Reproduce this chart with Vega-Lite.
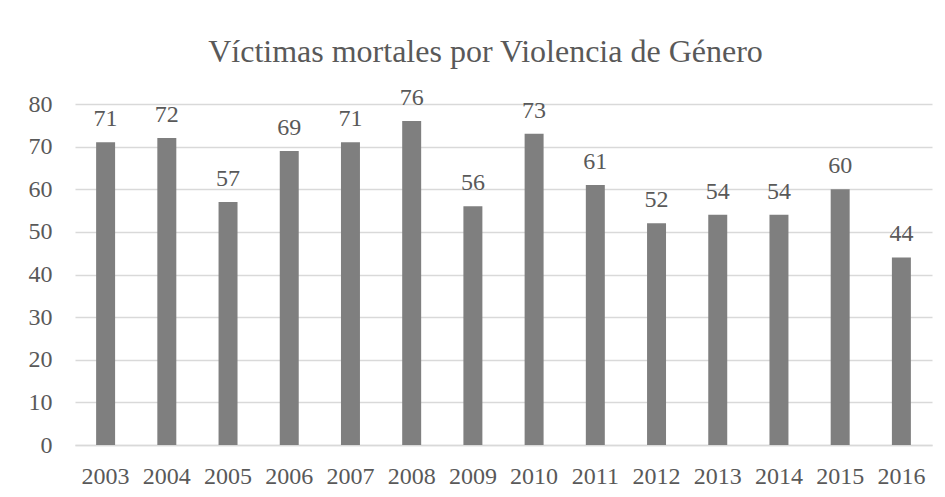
{
  "$schema": "https://vega.github.io/schema/vega-lite/v6.json",
  "autosize": "none",
  "width": 857,
  "height": 341,
  "padding": {"left": 75, "top": 104, "right": 13, "bottom": 52},
  "background": "white",
  "title": {
    "text": "Víctimas mortales por Violencia de Género",
    "font": "Liberation Serif",
    "fontSize": 32,
    "fontWeight": "normal",
    "color": "#595959",
    "anchor": "middle",
    "frame": "group",
    "dx": -18,
    "offset": 17
  },
  "config": {
    "view": {"stroke": null},
    "axis": {
      "labelFont": "Liberation Serif",
      "labelFontSize": 24,
      "labelColor": "#595959",
      "ticks": false,
      "title": null,
      "gridColor": "#d9d9d9",
      "gridWidth": 1.3
    }
  },
  "data": {
    "values": [
      {"year": "2003", "victims": 71},
      {"year": "2004", "victims": 72},
      {"year": "2005", "victims": 57},
      {"year": "2006", "victims": 69},
      {"year": "2007", "victims": 71},
      {"year": "2008", "victims": 76},
      {"year": "2009", "victims": 56},
      {"year": "2010", "victims": 73},
      {"year": "2011", "victims": 61},
      {"year": "2012", "victims": 52},
      {"year": "2013", "victims": 54},
      {"year": "2014", "victims": 54},
      {"year": "2015", "victims": 60},
      {"year": "2016", "victims": 44}
    ]
  },
  "encoding": {
    "x": {
      "field": "year",
      "type": "ordinal",
      "scale": {"paddingInner": 0.69, "paddingOuter": 0.345},
      "axis": {
        "labelAngle": 0,
        "labelPadding": 19,
        "domainColor": "#d9d9d9",
        "domainWidth": 1.3,
        "grid": false
      }
    },
    "y": {
      "field": "victims",
      "type": "quantitative",
      "scale": {"domain": [0, 80]},
      "axis": {
        "values": [0, 10, 20, 30, 40, 50, 60, 70, 80],
        "domain": false,
        "grid": true,
        "labelPadding": 23
      }
    }
  },
  "layer": [
    {"mark": {"type": "bar", "color": "#7f7f7f"}},
    {
      "mark": {
        "type": "text",
        "font": "Liberation Serif",
        "fontSize": 24,
        "color": "#595959",
        "baseline": "alphabetic",
        "dy": -16
      },
      "encoding": {"text": {"field": "victims", "type": "quantitative"}}
    }
  ]
}
